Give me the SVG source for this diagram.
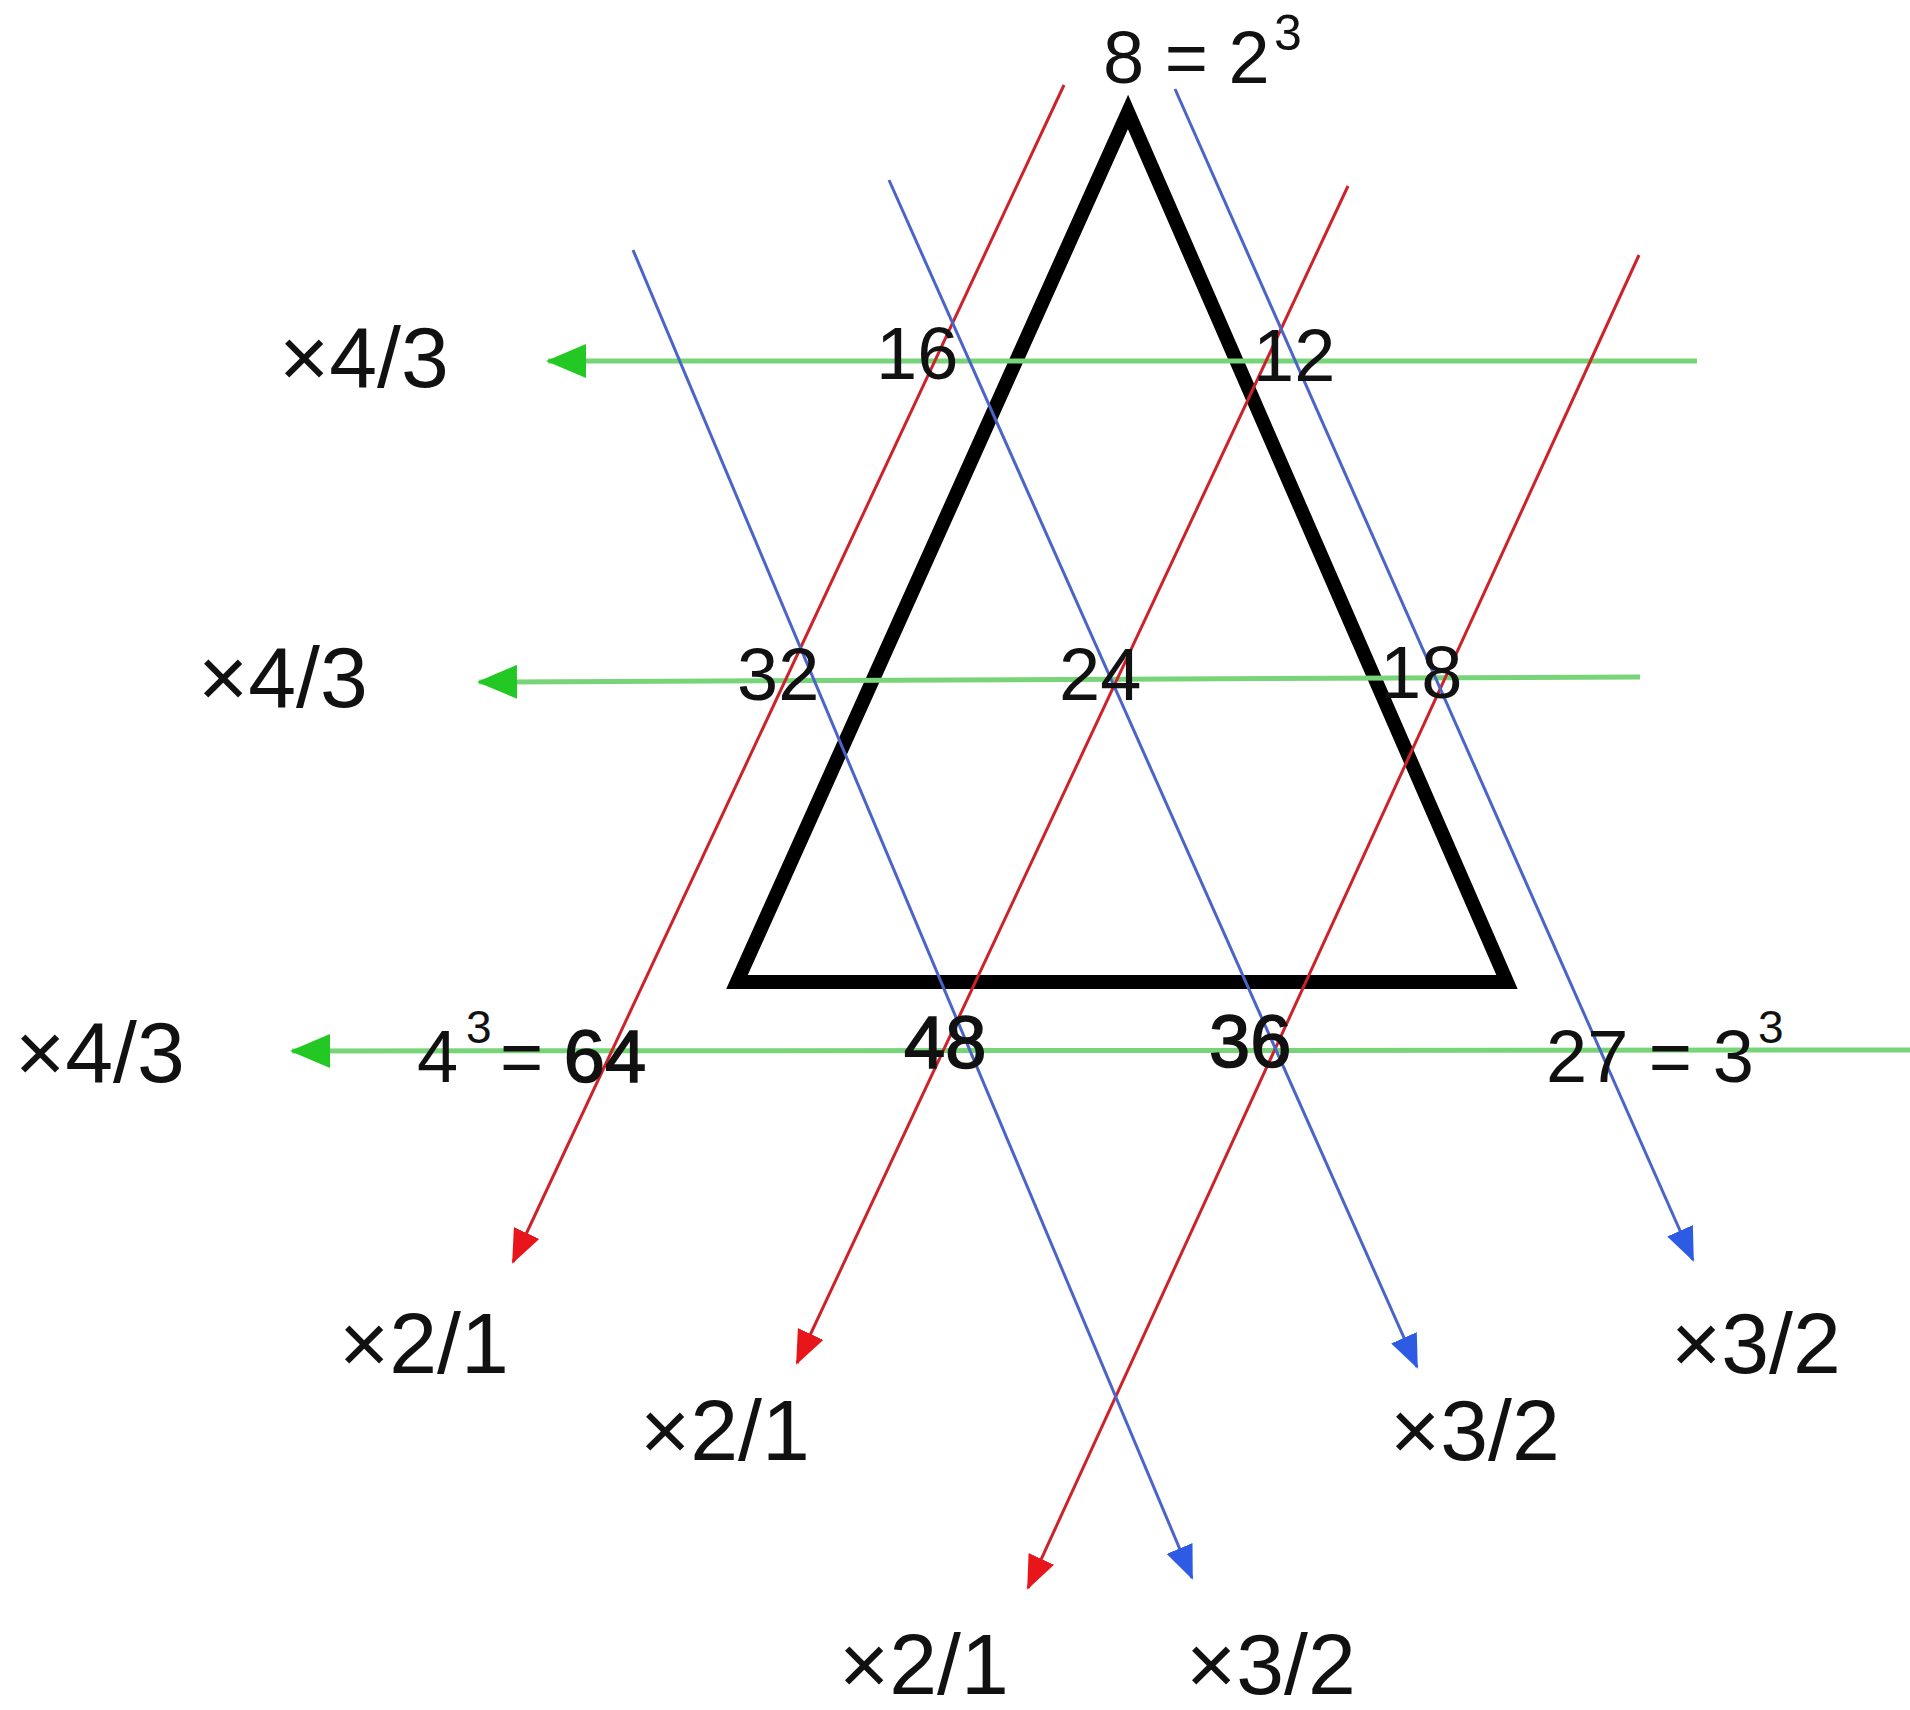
<svg xmlns="http://www.w3.org/2000/svg" width="1910" height="1710" viewBox="0 0 1910 1710">
  <defs>
    <marker id="arrRed" markerUnits="userSpaceOnUse" markerWidth="34" markerHeight="28" viewBox="0 0 34 28" refX="32" refY="14" orient="auto">
      <path d="M0,0 L34,14 L0,28 Z" fill="#e8161b"/>
    </marker>
    <marker id="arrBlue" markerUnits="userSpaceOnUse" markerWidth="34" markerHeight="28" viewBox="0 0 34 28" refX="32" refY="14" orient="auto">
      <path d="M0,0 L34,14 L0,28 Z" fill="#2d5be3"/>
    </marker>
    <marker id="arrGreen" markerUnits="userSpaceOnUse" markerWidth="40" markerHeight="34" viewBox="0 0 40 34" refX="38" refY="17" orient="auto">
      <path d="M0,0 L40,17 L0,34 Z" fill="#24c824"/>
    </marker>
  </defs>
  <style>
    text { font-family: "Liberation Sans", Arial, sans-serif; fill: #111; }
    .num { font-size: 74px; }
    .heavy { stroke: #111; stroke-width: 1.6px; }
    .op { font-size: 86px; }
    .sup { font-size: 46px; }
    .red { stroke: #cc2229; stroke-width: 3; fill: none; marker-end: url(#arrRed); }
    .blue { stroke: #4a64c8; stroke-width: 3; fill: none; marker-end: url(#arrBlue); }
    .green { stroke: #78d478; stroke-width: 5; fill: none; marker-end: url(#arrGreen); }
  </style>
  <rect width="1910" height="1710" fill="#ffffff"/>

  <g id="triangle">
    <polygon points="1128,112 737,982 1507,982" fill="none" stroke="#000" stroke-width="14" stroke-linejoin="miter"/>
  </g>

  <g id="connectors">
    <line class="green" x1="1697" y1="361" x2="548" y2="361"/>
    <line class="green" x1="1640" y1="677" x2="479" y2="682"/>
    <line class="green" x1="1910" y1="1050" x2="292" y2="1051"/>
    <line class="red" x1="1064" y1="85" x2="513" y2="1262"/>
    <line class="red" x1="1348" y1="186" x2="797" y2="1363"/>
    <line class="red" x1="1639" y1="255" x2="1028" y2="1588"/>
    <line class="blue" x1="633" y1="250" x2="1192" y2="1578"/>
    <line class="blue" x1="889" y1="180" x2="1417" y2="1367"/>
    <line class="blue" x1="1175" y1="89" x2="1693" y2="1260"/>
  </g>

  <g id="n8"><text class="num" x="1103" y="83">8 = 2</text><text class="sup" x="1274" y="50" style="font-size:50px">3</text></g>
  <g id="n16"><text class="num" x="876" y="379">16</text></g>
  <g id="n12"><text class="num" x="1253" y="381">12</text></g>
  <g id="n32"><text class="num" x="737" y="700">32</text></g>
  <g id="n24"><text class="num" x="1059" y="700">24</text></g>
  <g id="n18"><text class="num" x="1380" y="698">18</text></g>
  <g id="n64"><text class="num" x="417" y="1082">4</text><text class="sup" x="466" y="1043">3</text><text class="num" x="500" y="1082">= <tspan class="heavy">64</tspan></text></g>
  <g id="n48"><text class="num heavy" x="904" y="1068">48</text></g>
  <g id="n36"><text class="num heavy" x="1209" y="1067">36</text></g>
  <g id="n27"><text class="num" x="1546" y="1082">27 = 3</text><text class="sup" x="1758" y="1043">3</text></g>

  <g id="op43a"><text class="op" x="279" y="387">×4/3</text></g>
  <g id="op43b"><text class="op" x="198" y="707">×4/3</text></g>
  <g id="op43c"><text class="op" x="15" y="1082">×4/3</text></g>
  <g id="op21a"><text class="op" x="339" y="1373">×2/1</text></g>
  <g id="op21b"><text class="op" x="640" y="1460">×2/1</text></g>
  <g id="op21c"><text class="op" x="839" y="1694">×2/1</text></g>
  <g id="op32a"><text class="op" x="1186" y="1694">×3/2</text></g>
  <g id="op32b"><text class="op" x="1390" y="1460">×3/2</text></g>
  <g id="op32c"><text class="op" x="1671" y="1373">×3/2</text></g>
</svg>
